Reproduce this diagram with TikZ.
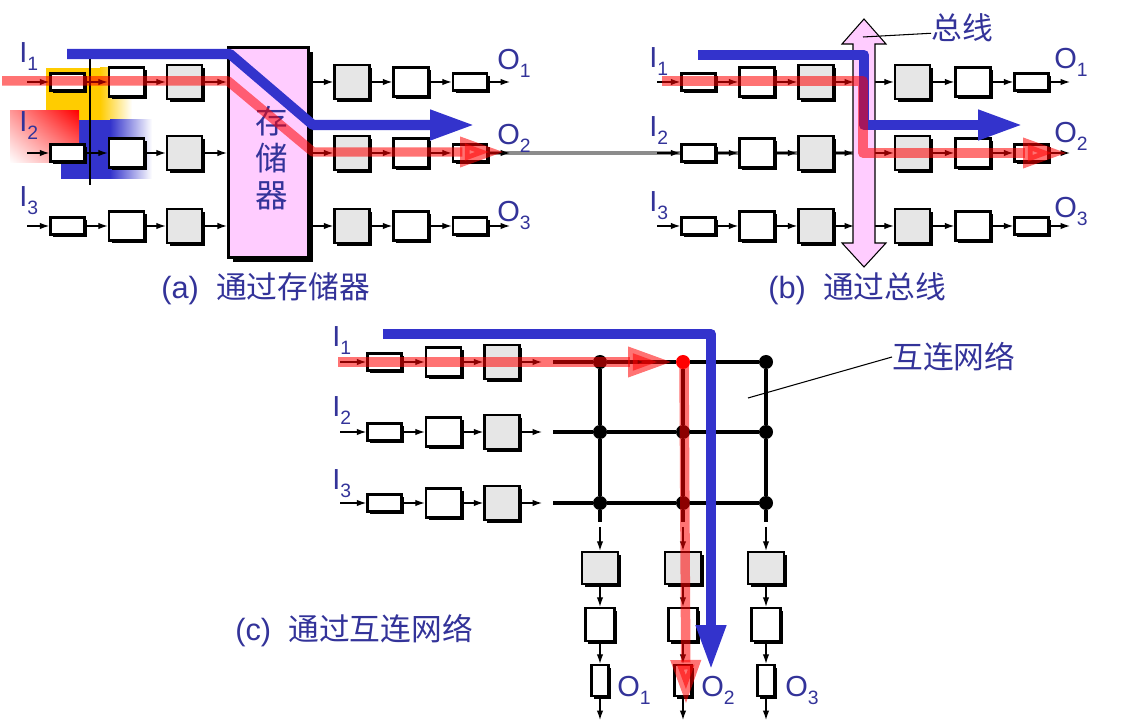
\documentclass[tikz,border=0pt]{standalone}
\usepackage{fontspec}
\setmainfont{Liberation Sans}
\newfontfamily\cjk{Noto Sans CJK SC}
\usetikzlibrary{arrows.meta,positioning,calc,shadows,shadings,backgrounds}
\definecolor{betu}{RGB}{51,51,153}
\definecolor{lila}{RGB}{255,204,255}
\definecolor{szurke}{RGB}{230,230,230}
\definecolor{kek}{RGB}{51,51,204}
\definecolor{sarga}{RGB}{255,204,0}
\definecolor{vonal}{RGB}{140,140,140}
\newcommand{\lbl}[2]{#1\raisebox{-4.5pt}{\fontsize{11}{11}\selectfont #2}}
\tikzset{
  arny/.style={general shadow={fill=black,shadow xshift=1.5pt,shadow yshift=-1.5pt}},
  kis/.style={draw,line width=1.4pt,fill=white,inner sep=0pt,minimum width=0.68cm,minimum height=0.34cm,arny},
  feher/.style={draw,line width=1.4pt,fill=white,inner sep=0pt,minimum width=0.70cm,minimum height=0.58cm,arny},
  szbox/.style={draw,line width=1.4pt,fill=szurke,inner sep=0pt,minimum width=0.70cm,minimum height=0.68cm,arny},
  vkis/.style={kis,minimum width=0.34cm,minimum height=0.62cm},
  vfeher/.style={feher,minimum width=0.58cm,minimum height=0.66cm},
  vszbox/.style={szbox,minimum width=0.72cm,minimum height=0.64cm},
  tar/.style={draw,line width=1.8pt,fill=lila,minimum width=1.60cm,minimum height=4.20cm,
    general shadow={fill=black,shadow xshift=2.8pt,shadow yshift=-2.8pt}},
  ar/.style={line width=0.7pt,-{Latex[length=1.9mm,width=1.3mm]}},
  kekut/.style={line width=5.7pt,kek,line join=round,-{Triangle[length=0.9cm,width=0.56cm]}},
  pirut/.style={line width=5.4pt,red,opacity=0.55,line join=round,-{Triangle[length=0.9cm,width=0.56cm]}},
  pont/.style={circle,fill=black,inner sep=0pt,minimum size=0.28cm},
  racs/.style={line width=2pt},
  cimke/.style={anchor=base west,inner sep=0pt,text=betu,font=\fontsize{16.5}{16.5}\selectfont},
  felirat/.style={anchor=base west,inner sep=0pt,text=betu,font=\fontsize{17.5}{17.5}\selectfont},
}
\begin{document}
\begin{tikzpicture}[x=0.02cm,y=-0.02cm]
  \useasboundingbox (0,0) rectangle (1123,722);
  % (a) memory
  \fill[sarga] (46,68) rectangle (101,120);
  \shade[left color=sarga,right color=white] (100,68) rectangle (132,120);
  \fill[kek] (61,120) rectangle (111,179);
  \shade[left color=kek,right color=white] (110,120) rectangle (152,179);
  \shade[upper left=red!40,upper right=red,lower left=white,lower right=red!45] (10,111) rectangle (79,163);
  \draw[line width=1.7pt] (90,59) -- (90,185);
  \node[tar] (tar) at (268.5,152.5) {};
  \node[text=betu,font=\cjk\fontsize{18.5}{21}\selectfont,align=center] (tarfel) at (272,158) {存\\储\\器};
  \foreach \r/\y in {1/82,2/153,3/226}{
    \coordinate (abe\r) at (27,\y);
    \node[kis] (aki\r) at (67.5,\y) {};
    \node[feher] (afe\r) at (126.5,\y) {};
    \node[szbox] (asz\r) at (184.5,\y) {};
    \node[szbox] (jsz\r) at (352,\y) {};
    \node[feher] (jfe\r) at (411,\y) {};
    \node[kis] (jki\r) at (470,\y) {};
    \coordinate (aout\r) at (510,\y);
    \draw[ar] (abe\r) -- (aki\r);
    \draw[ar] (aki\r) -- (afe\r);
    \draw[ar] (afe\r) -- (asz\r);
    \draw[ar] (asz\r) -- (asz\r -| tar.west);
    \draw[ar] (jsz\r -| tar.east) -- (jsz\r);
    \draw[ar] (jsz\r) -- (jfe\r);
    \draw[ar] (jfe\r) -- (jki\r);
    \draw[ar] (jki\r) -- (aout\r);
  }
  % (b) bus
  \foreach \r/\y in {1/82,2/153,3/226}{
    \coordinate (bbe\r) at (657,\y);
    \node[kis] (bki\r) at (698.5,\y) {};
    \node[feher] (bfe\r) at (757,\y) {};
    \node[szbox] (bsz\r) at (816,\y) {};
    \coordinate (bbal\r) at (854,\y);
    \coordinate (bjobb\r) at (874,\y);
    \node[szbox] (ksz\r) at (912.5,\y) {};
    \node[feher] (kfe\r) at (973,\y) {};
    \node[kis] (kki\r) at (1031.5,\y) {};
    \coordinate (bout\r) at (1070,\y);
    \draw[ar] (bbe\r) -- (bki\r);
    \draw[ar] (bki\r) -- (bfe\r);
    \draw[ar] (bfe\r) -- (bsz\r);
    \draw[ar] (bsz\r) -- (bbal\r);
    \draw[ar] (bjobb\r) -- (ksz\r);
    \draw[ar] (ksz\r) -- (kfe\r);
    \draw[ar] (kfe\r) -- (kki\r);
    \draw[ar] (kki\r) -- (bout\r);
  }
  \begin{scope}[on background layer]
    \draw[line width=2pt,vonal] (jki2.east) -- (bbal2);
  \end{scope}
  \draw[line width=0.6pt,fill=lila] (864,19) -- (886,44) -- (875,44) -- (875,243) -- (886,243)
    -- (864,267) -- (842,243) -- (853,243) -- (853,44) -- (842,44) -- cycle;
  \coordinate (bhegy) at (863,37);
  \node[felirat,anchor=west] (busz) at (931,28) {\cjk 总线};
  \draw[line width=0.6pt] (bhegy) -- ([yshift=-3pt]busz.west);
  % (c) network
  \foreach \r/\y in {1/362,2/432,3/503}{
    \coordinate (cbe\r) at (340,\y);
    \node[kis] (cki\r) at (384.5,\y) {};
    \node[feher] (cfe\r) at (443.5,\y) {};
    \node[szbox] (csz\r) at (502,\y) {};
    \coordinate (cve\r) at (542,\y);
    \coordinate (hk\r) at (553,\y);
    \draw[ar] (cbe\r) -- (cki\r);
    \draw[ar] (cki\r) -- (cfe\r);
    \draw[ar] (cfe\r) -- (csz\r);
    \draw[ar] (csz\r) -- (cve\r);
    \foreach \c/\x in {1/600,2/683,3/766}{
      \ifnum\r\c=12 \def\sz{red}\else\def\sz{black}\fi
      \node[pont,fill=\sz] (d\r\c) at (\x,\y) {};
    }
    \draw[racs] (hk\r) -- (d\r1) -- (d\r2) -- (d\r3);
  }
  \foreach \c/\x in {1/600,2/683,3/766}{
    \coordinate (ve\c) at (\x,522);
    \coordinate (vs\c) at (\x,527);
    \node[vszbox] (osz\c) at (\x,568) {};
    \node[vfeher] (ofe\c) at (\x,624.5) {};
    \node[vkis] (oki\c) at (\x,680.5) {};
    \coordinate (vo\c) at (\x,720);
    \draw[racs] (d1\c) -- (d2\c) -- (d3\c) -- (ve\c);
    \draw[ar] (vs\c) -- (osz\c);
    \draw[ar] (osz\c) -- (ofe\c);
    \draw[ar] (ofe\c) -- (oki\c);
    \draw[ar] (oki\c) -- (vo\c);
  }
  \coordinate (halopt) at (748,398);
  \node[felirat,anchor=west] (halo) at (892,357) {\cjk 互连网络};
  \draw[line width=0.6pt] (halopt) -- (halo.west);
  % utak
  \draw[kekut] (67,54) -- (230,54) -- (313,125) -- (475,125);
  \draw[pirut] (2,81) -- (228,81) -- (313,152) -- (505,152);
  \draw[kekut] (698,55) -- (864,55) -- (864,125) -- (1023,125);
  \draw[pirut] (662,81) -- (863,81) -- (863,153) -- (1068,153);
  \draw[kekut] (383,334) -- (711,334) -- (711,670);
  \draw[pirut] (338,362) -- (673,362);
  \draw[pirut] (684,362) -- (686,705);
  % feliratok
  \foreach \r/\y in {1/63,2/132,3/207} \node[cimke] (aI\r) at (19,\y) {\lbl{I}{\r}};
  \foreach \r/\y in {1/70,2/145,3/222} \node[cimke] (aO\r) at (497,\y) {\lbl{O}{\r}};
  \foreach \r/\y in {1/68,2/137,3/212} \node[cimke] (bI\r) at (649,\y) {\lbl{I}{\r}};
  \foreach \r/\y in {1/69,2/143,3/218} \node[cimke] (bO\r) at (1054,\y) {\lbl{O}{\r}};
  \foreach \r/\y in {1/347,2/417,3/490} \node[cimke] (cI\r) at (332,\y) {\lbl{I}{\r}};
  \foreach \c/\x in {1/617,2/701,3/785} \node[cimke] (cO\c) at (\x,697) {\lbl{O}{\c}};
  \node[felirat] (capa) at (161,299) {(a)~~{\cjk 通过存储器}};
  \node[felirat] (capb) at (768,299) {(b)~~{\cjk 通过总线}};
  \node[felirat] (capc) at (235,641) {(c)~~{\cjk 通过互连网络}};
\end{tikzpicture}
\end{document}
